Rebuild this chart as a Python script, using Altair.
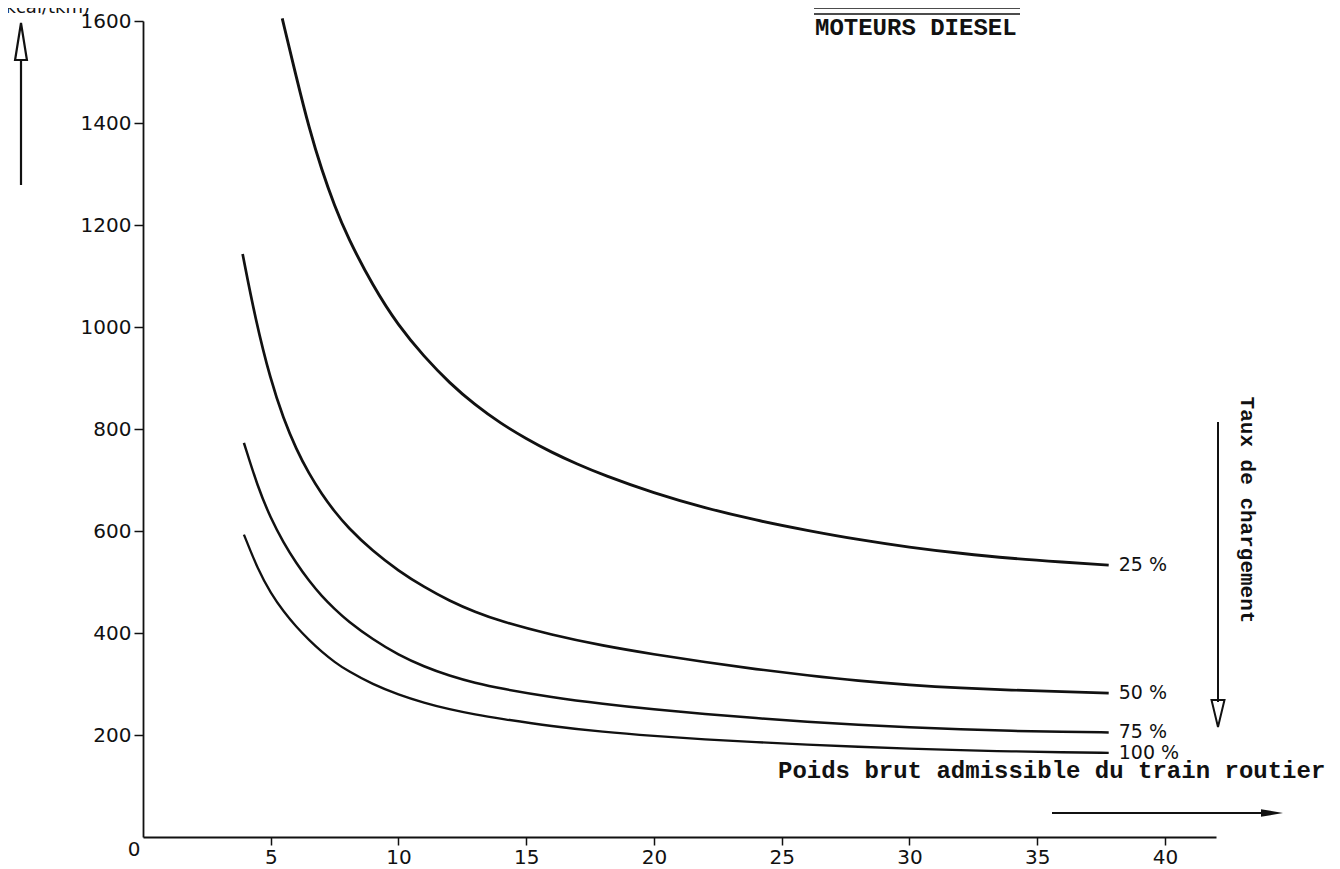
import altair as alt
import pandas as pd

# ---- data ----
x_ticks = [5, 10, 15, 20, 25, 30, 35, 40]
y_ticks = [0, 200, 400, 600, 800, 1000, 1200, 1400, 1600]

series_names = ["25 %", "50 %", "75 %", "100 %"]

x25 = [5.45, 6, 6.5, 7, 7.5, 8, 9, 10, 11, 12, 13, 14, 15, 16, 17, 18, 20, 22, 24, 26, 28, 30, 32, 34, 36, 37.8]
y25 = [1605, 1490, 1390, 1307, 1237, 1177, 1080, 1002, 942, 890, 847, 811, 781, 754, 731, 710, 674, 645, 621, 601, 583, 568, 556, 546, 539, 533]

x50 = [3.9, 4.4, 5, 5.5, 6, 6.5, 7, 7.5, 8, 9, 10, 11, 12, 13, 14, 16, 18, 20, 22, 24, 26, 28, 30, 32, 34, 36, 37.8]
y50 = [1143, 1015, 895, 820, 760, 712, 672, 638, 608, 560, 522, 490, 463, 441, 423, 396, 375, 358, 343, 329, 317, 306, 298, 292, 288, 285, 282]

x75 = [3.95, 4.5, 5, 5.5, 6, 6.5, 7, 7.5, 8, 9, 10, 11, 12, 13, 14, 16, 18, 20, 22, 24, 26, 28, 30, 32, 34, 36, 37.8]
y75 = [773, 685, 625, 577, 537, 502, 472, 447, 424, 387, 357, 334, 316, 302, 291, 274, 261, 250, 241, 233, 226, 220, 215, 211, 208, 206, 205]

x100 = [3.95, 4.5, 5, 5.5, 6, 6.5, 7, 7.5, 8, 9, 10, 11, 12, 13, 14, 16, 18, 20, 22, 24, 26, 28, 30, 32, 34, 36, 37.8]
y100 = [593, 524, 478, 442, 412, 386, 363, 343, 326, 299, 279, 263, 250, 240, 232, 217, 206, 198, 191, 186, 181, 177, 173, 170, 168, 166, 165]

xs = [x25, x50, x75, x100]
ys = [y25, y50, y75, y100]

rows = []
for name, xx, yy in zip(series_names, xs, ys):
    for i, (a, b) in enumerate(zip(xx, yy)):
        rows.append({"series": name, "x": a, "y": b, "i": i})
df = pd.DataFrame(rows)
ends = pd.DataFrame([{"series": n, "x": xx[-1], "y": yy[-1]} for n, xx, yy in zip(series_names, xs, ys)])

BLACK = "#111111"
SANS = "DejaVu Sans"
MONO = "Liberation Mono"

xscale = alt.Scale(domain=[0, 42], nice=False, zero=False)
yscale = alt.Scale(domain=[0, 1600], nice=False)

x_axis = alt.Axis(values=x_ticks, title=None, grid=False, labelAngle=0, format="d",
                  tickSize=8, tickWidth=1.5, tickColor=BLACK,
                  domainColor=BLACK, domainWidth=1.8,
                  labelFont=SANS, labelFontSize=20, labelColor=BLACK, labelPadding=2)
y_axis = alt.Axis(values=y_ticks, title=None, grid=False, format="d",
                  tickSize={"condition": {"test": "datum.value === 0", "value": 0}, "value": 9},
                  labelOffset={"condition": {"test": "datum.value === 0", "value": 12}, "value": 0},
                  tickWidth=1.5, tickColor=BLACK,
                  domainColor=BLACK, domainWidth=1.8,
                  labelFont=SANS, labelFontSize=20, labelColor=BLACK, labelPadding=3)

lines = alt.Chart(df).mark_line(interpolate="basis", color=BLACK).encode(
    x=alt.X("x:Q", scale=xscale, axis=x_axis),
    y=alt.Y("y:Q", scale=yscale, axis=y_axis),
    detail="series:N",
    order="i:Q",
    strokeWidth=alt.StrokeWidth("series:N", scale=alt.Scale(domain=series_names, range=[2.9, 2.3, 1.9, 1.9]), legend=None),
)

labels = alt.Chart(ends).mark_text(align="left", baseline="middle", dx=10, font=SANS, fontSize=19, color=BLACK).encode(
    x=alt.X("x:Q", scale=xscale), y=alt.Y("y:Q", scale=yscale), text="series:N"
)

one = pd.DataFrame({"k": [0]})

def txt(t, x, y, **kw):
    return alt.Chart(pd.DataFrame({"t": [t]})).mark_text(color=BLACK, **kw).encode(
        x=alt.value(x), y=alt.value(y), text="t:N")

def rule(x1, x2, y1, y2, w=2.0):
    return alt.Chart(one).mark_rule(color=BLACK, strokeWidth=w).encode(
        x=alt.value(x1), x2=alt.value(x2), y=alt.value(y1), y2=alt.value(y2))

def head(shape, x, y, size, filled, w=2.0):
    return alt.Chart(one).mark_point(shape=shape, size=size, filled=filled, color=BLACK,
                                     strokeWidth=w, opacity=1).encode(x=alt.value(x), y=alt.value(y))

annots = [
    # title block at top
    txt("MOTEURS DIESEL", 672, 14, align="left", baseline="alphabetic", font=MONO, fontSize=24, fontWeight="bold"),
    rule(671, 877, -13, -13, 1.5),
    rule(671, 877, -7, -7, 1.5),
    # y unit (cut at the top of the page, as in the reference)
    txt("(kcal/tkm)", -53, -8, align="right", baseline="alphabetic", font=SANS, fontSize=18),
    # left vertical arrow
    rule(-122, -122, 39, 164, 2.2),
    head("M0,-1L0.32,1L-0.32,1Z", -122, 20.5, 1369, False, 2.2),
    # right vertical arrow + label
    rule(1075, 1075, 401, 681, 2.0),
    head("M-0.48,-1L0.48,-1L0,1Z", 1075, 692.5, 729, False, 2.0),
    txt("Taux de chargement", 1104, 489, align="center", baseline="middle", angle=90,
        font=MONO, fontSize=21, fontWeight="bold"),
    # x title and arrow
    txt("Poids brut admissible du train routier", 635, 757, align="left", baseline="alphabetic",
        font=MONO, fontSize=24, fontWeight="bold"),
    rule(909, 1121, 792, 792, 2.0),
    head("M-1,-0.35L1,0L-1,0.35Z", 1129, 792, 484, True, 1.0),
]

chart = alt.layer(lines, labels, *annots).properties(
    width=1073, height=816,
    autosize=alt.AutoSizeParams(type="none"),
    padding={"left": 135, "top": 13, "right": 116, "bottom": 30},
    background="white",
).configure_view(stroke=None)

chart.save("out.html", embed_options={"renderer": "svg", "actions": False})
